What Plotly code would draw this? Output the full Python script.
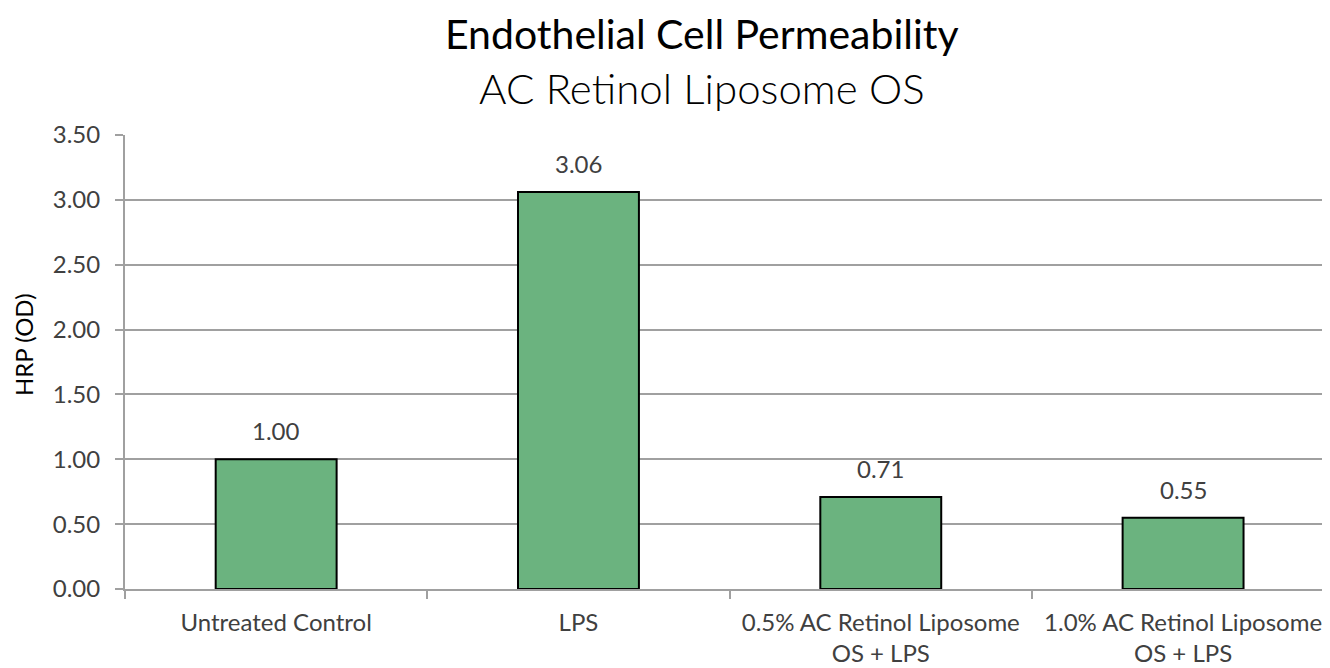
import plotly.graph_objects as go

categories = ["Untreated Control", "LPS", "0.5% AC Retinol Liposome<br>OS + LPS", "1.0% AC Retinol Liposome<br>OS + LPS"]
values = [1.00, 3.06, 0.71, 0.55]
value_labels = ["1.00", "3.06", "0.71", "0.55"]
y_ticks = [0, 0.5, 1.0, 1.5, 2.0, 2.5, 3.0, 3.5]
title_line1 = "Endothelial Cell Permeability"
title_line2 = "AC Retinol Liposome OS"
y_title = "HRP (OD)"

# page has an 8px body margin; compensate
OFF = 8
W, H = 1330 - OFF, 668 - OFF
ML, MR, MT, MB = 125 - OFF, 0, 135 - OFF, 79
plot_h = H - MT - MB
plot_w = W - ML - MR
FONT = "Lato, Calibri, Carlito, sans-serif"
GRID = "#a0a0a0"

fig = go.Figure(go.Bar(
    x=categories, y=values,
    marker=dict(color="#6BB37F", line=dict(color="#000000", width=2)),
    cliponaxis=False, hoverinfo="x+y",
))

def py(page_y):
    return (H - MB - (page_y - OFF)) / plot_h

def px(page_x):
    return (page_x - OFF - ML) / plot_w

annotations = [
    dict(text=title_line1, x=px(702), xref="paper", y=py(33), yref="paper",
         xanchor="center", yanchor="middle", showarrow=False,
         font=dict(family=FONT, size=41, color="#000000")),
    dict(text=title_line2, x=px(702), xref="paper", y=py(88), yref="paper",
         xanchor="center", yanchor="middle", showarrow=False,
         font=dict(family=FONT, size=42, color="#000000", weight=300)),
    dict(text=y_title, x=px(23), xref="paper", y=py(345), yref="paper",
         xanchor="center", yanchor="middle", showarrow=False, textangle=-90,
         font=dict(family=FONT, size=24, color="#000000")),
]
for c, v, t in zip(categories, values, value_labels):
    annotations.append(dict(text=t, x=c, xref="x", y=v, yref="y",
                            xanchor="center", yanchor="bottom", yshift=12,
                            showarrow=False,
                            font=dict(family=FONT, size=24, color="#404040")))

fig.update_layout(
    width=W, height=H,
    margin=dict(l=ML, r=MR, t=MT, b=MB, autoexpand=False),
    plot_bgcolor="white", paper_bgcolor="white",
    bargap=0.6,
    showlegend=False,
    font=dict(family=FONT, size=24, color="#404040"),
    annotations=annotations,
)
fig.update_xaxes(
    type="category", range=[-0.5, 3.486],
    tickson="boundaries", ticks="outside", ticklen=8, tickwidth=2, tickcolor=GRID,
    showline=True, linecolor=GRID, linewidth=2,
    showgrid=False, ticklabelstandoff=11, automargin=False,
    tickfont=dict(family=FONT, size=24, color="#404040"),
)
fig.update_yaxes(
    range=[0, 3.5], tickvals=y_ticks, tickformat=".2f",
    ticks="outside", ticklen=8, tickwidth=2, tickcolor=GRID,
    showline=True, linecolor=GRID, linewidth=2,
    showgrid=True, gridcolor=GRID, gridwidth=2, zeroline=False,
    ticklabelstandoff=10, automargin=False,
    tickfont=dict(family=FONT, size=24, color="#404040"),
)
fig.write_html("out.html")
